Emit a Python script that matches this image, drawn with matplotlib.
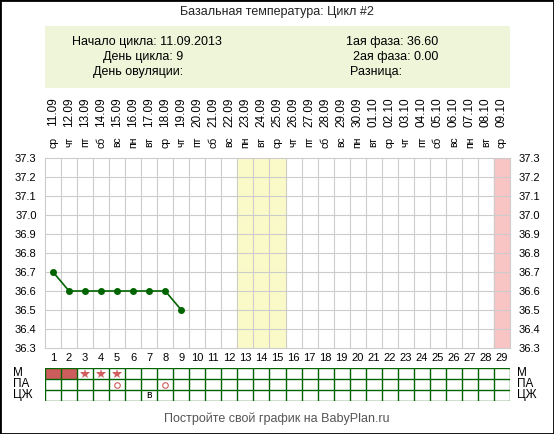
import matplotlib
matplotlib.use("Agg")
import matplotlib.pyplot as plt
from matplotlib.patches import Rectangle
import datetime as dt

W, H = 554, 434
days = list(range(1, 30))
temp_days = [1, 2, 3, 4, 5, 6, 7, 8, 9]
temps = [36.7, 36.6, 36.6, 36.6, 36.6, 36.6, 36.6, 36.6, 36.5]
start = dt.date(2013, 9, 11)
wd = ["пн", "вт", "ср", "чт", "пт", "сб", "вс"]
dates = [(start + dt.timedelta(d - 1)).strftime("%d.%m") for d in days]
weekdays = [wd[(start + dt.timedelta(d - 1)).weekday()] for d in days]
yticks = [36.3, 36.4, 36.5, 36.6, 36.7, 36.8, 36.9, 37.0, 37.1, 37.2, 37.3]
m_fill = [1, 2]
m_star = [3, 4, 5]
pa_circle = [5, 8]
cj_text = {7: "в"}

plt.rcParams['font.family'] = ['Liberation Sans', 'DejaVu Sans']
fig = plt.figure(figsize=(W / 100, H / 100), dpi=100)
fx = lambda p: p / W
fy = lambda p: 1 - p / H

fig.patches.append(Rectangle((0, 0), 1, 1, transform=fig.transFigure, fill=False, ec='black', lw=2))
fig.text(fx(277), fy(12), "Базальная температура: Цикл #2", ha='center', va='center', fontsize=9, color='#222')
fig.patches.append(Rectangle((fx(45), fy(88)), fx(465), 62 / H, transform=fig.transFigure, fc='#eef5d9', ec='none'))
fig.text(fx(222), fy(42), "Начало цикла: 11.09.2013", ha='right', va='center', fontsize=9)
fig.text(fx(183), fy(57), "День цикла: 9", ha='right', va='center', fontsize=9)
fig.text(fx(183), fy(72), "День овуляции:", ha='right', va='center', fontsize=9)
fig.text(fx(438), fy(42), "1ая фаза: 36.60", ha='right', va='center', fontsize=9)
fig.text(fx(438), fy(57), "2ая фаза: 0.00", ha='right', va='center', fontsize=9)
fig.text(fx(402), fy(72), "Разница:", ha='right', va='center', fontsize=9)

ax = fig.add_axes([fx(45), fy(348), fx(465), 190 / H])
ax.set_xlim(0.5, 29.5)
ax.set_ylim(36.3, 37.3)
ax.axvspan(12.5, 15.5, color='#fafac8', zorder=0)
ax.axvspan(28.5, 29.5, color='#f9c4c4', zorder=0)
for x in range(1, 29):
    ax.axvline(x + 0.5, color='#cccccc', lw=0.8, zorder=1)
for y in yticks[1:-1]:
    ax.axhline(y, color='#cccccc', lw=0.8, zorder=1)
ax.plot(temp_days, temps, color='#006400', lw=1.2, marker='o', ms=4, zorder=3)
ax.set_xticks([])
ax.set_yticks(yticks)
ax.set_yticklabels([f"{v:.1f}" for v in yticks], fontsize=8)
ax.tick_params(axis='y', length=0, labelright=True, pad=6)
for s in ax.spines.values():
    s.set_color('#cccccc')

for i, d in enumerate(days):
    x = 45 + (d - 0.5) * 465 / 29
    fig.text(fx(x), fy(112), dates[i], rotation=90, ha='center', va='center', fontsize=8.5)
    fig.text(fx(x), fy(142), weekdays[i], rotation=90, ha='center', va='center', fontsize=7.5)
    fig.text(fx(x), fy(358), str(d), ha='center', va='center', fontsize=8)

bx = fig.add_axes([fx(45), fy(401), fx(465), 33 / H])
bx.set_xlim(0.5, 29.5)
bx.set_ylim(0, 3)
bx.axis('off')
for d in m_fill:
    bx.add_patch(Rectangle((d - 0.5, 2), 1, 1, fc='#cd5c5c', ec='none'))
for x in range(0, 30):
    bx.plot([x + 0.5, x + 0.5], [0, 3], color='#006400', lw=1)
for y in range(0, 4):
    bx.plot([0.5, 29.5], [y, y], color='#006400', lw=1)
for d in m_star:
    bx.plot(d, 2.5, marker='*', color='#d06060', ms=7, mew=0)
for d in pa_circle:
    bx.plot(d, 1.5, marker='o', mfc='none', mec='#cd5c5c', ms=4, mew=0.8)
for d, t in cj_text.items():
    bx.text(d, 0.5, t, ha='center', va='center', fontsize=7.5)
for yy, lab in [(373, "М"), (384, "ПА"), (395, "ЦЖ")]:
    fig.text(fx(13), fy(yy), lab, ha='left', va='center', fontsize=8.5)
    fig.text(fx(517), fy(yy), lab, ha='left', va='center', fontsize=8.5)
fig.text(fx(277), fy(419), "Постройте свой график на BabyPlan.ru", ha='center', va='center', fontsize=9, color='#555')
fig.savefig("out.png", dpi=100)
